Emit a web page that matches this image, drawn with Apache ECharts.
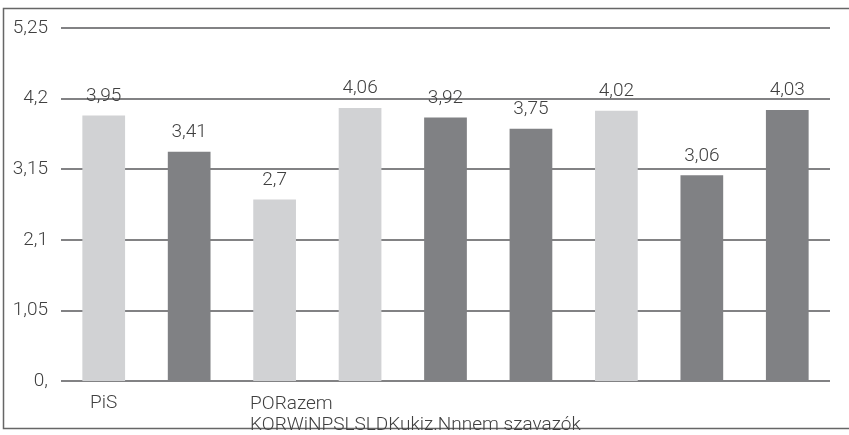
<!DOCTYPE html>
<html>
<head>
<meta charset="utf-8">
<script src="https://cdn.jsdelivr.net/npm/echarts@6/dist/echarts.min.js"></script>
<style>
  html, body { margin: 0; padding: 0; background: #fff; }
  #chart { width: 849px; height: 435px; }
</style>
</head>
<body>
<div id="chart"></div>
<script>
const categories = ['PiS', 'PO', 'Razem', 'KORWiN', 'PSL', 'SLD', 'Kukiz', '.N', 'nnem szavazók']
const values = [3.95, 3.41, 2.7, 4.06, 3.92, 3.75, 4.02, 3.06, 4.03]
const shades = ['light', 'dark', 'light', 'light', 'dark', 'dark', 'light', 'dark', 'dark']
const yTicks = [0, 1.05, 2.1, 3.15, 4.2, 5.25]

const colors = { light: '#d1d2d4', dark: '#808184' }
const textColor = '#404040'
const lineColor = '#58595b'
const font = 'Roboto'
const fontSize = 19

function fmt(v) {
  const s = String(+v.toFixed(2)).replace('.', ',')
  return s.includes(',') ? s : s + ','
}

// the original label row is garbled: names run together from the third slot
const joinedTop = categories.slice(1, 3).join('')
const joinedBottom = categories.slice(3).join('')

const chart = echarts.init(document.getElementById('chart'))

chart.setOption({
  animation: false,
  grid: { left: 61, right: 19, top: 28, bottom: 49.5 },
  graphic: [{
    type: 'rect',
    shape: { x: 3.5, y: 8.5, width: 900, height: 420 },
    style: { fill: 'none', stroke: '#666', lineWidth: 1.5 },
    silent: true
  }],
  xAxis: {
    type: 'category',
    data: categories,
    axisTick: { show: false },
    axisLine: { show: false },
    axisLabel: {
      interval: 0,
      margin: 13,
      color: textColor,
      fontFamily: font,
      fontWeight: 300,
      fontSize: fontSize,
      formatter: (val, i) => {
        if (i === 0) return val
        if (i === 2) return '{l|' + joinedTop + '}\n{l|' + joinedBottom + '}'
        return ''
      },
      rich: {
        l: { width: 49, align: 'left', lineHeight: 21, color: textColor, fontFamily: font, fontWeight: 300, fontSize: fontSize }
      }
    }
  },
  yAxis: {
    type: 'value',
    min: 0,
    max: yTicks[yTicks.length - 1],
    interval: yTicks[1],
    axisLine: { show: false },
    axisTick: { show: false },
    splitLine: { lineStyle: { color: lineColor, width: 1.5 } },
    axisLabel: {
      margin: 13,
      color: textColor,
      fontFamily: font,
      fontWeight: 300,
      fontSize: fontSize,
      formatter: fmt
    }
  },
  series: [{
    type: 'bar',
    barWidth: '50%',
    data: values.map((v, i) => ({ value: v, itemStyle: { color: colors[shades[i]] } })),
    label: {
      show: true,
      position: 'top',
      distance: 10,
      color: textColor,
      fontFamily: font,
      fontWeight: 300,
      fontSize: fontSize,
      formatter: p => fmt(p.value)
    }
  }]
})
</script>
</body>
</html>
